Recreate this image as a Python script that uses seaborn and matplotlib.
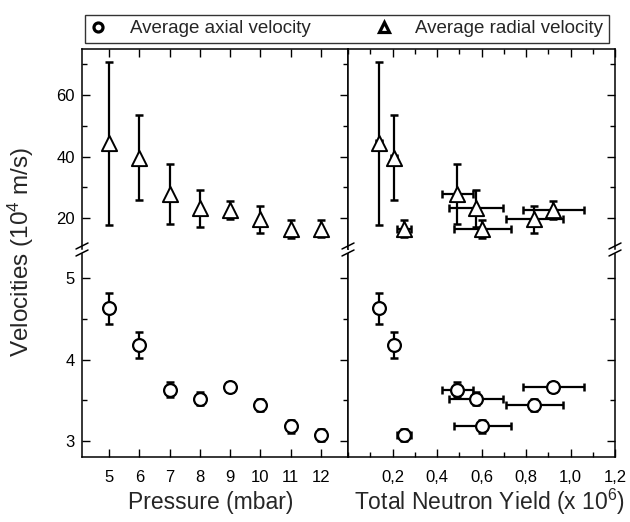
import matplotlib
matplotlib.use("Agg")
import matplotlib.pyplot as plt
from matplotlib.lines import Line2D
from matplotlib.ticker import MultipleLocator, FixedLocator, FuncFormatter
import seaborn as sns

# Measured discharge data
pressure = [5, 6, 7, 8, 9, 10, 11, 12]                       # mbar
neutron_yield = [0.14, 0.207, 0.491, 0.574, 0.923, 0.838, 0.604, 0.252]   # x 10^6
neutron_yield_err = [0.012, 0.015, 0.07, 0.122, 0.137, 0.128, 0.129, 0.033]
axial_velocity = [4.63, 4.185, 3.63, 3.52, 3.66, 3.44, 3.18, 3.07]         # 10^4 m/s
axial_velocity_err = [0.19, 0.16, 0.09, 0.085, 0.06, 0.07, 0.08, 0.07]
radial_velocity = [44.3, 39.7, 27.8, 23.2, 22.7, 19.6, 16.5, 16.6]         # 10^4 m/s
radial_velocity_err = [26.5, 13.7, 9.7, 6.0, 2.9, 4.5, 3.0, 2.8]

pressure_ticks = [5, 6, 7, 8, 9, 10, 11, 12]
yield_ticks = [0.2, 0.4, 0.6, 0.8, 1.0, 1.2]
labels = ["Average axial velocity", "Average radial velocity"]

sns.set_theme(style="ticks")
plt.rcParams["font.family"] = ["Liberation Sans", "DejaVu Sans"]
plt.rcParams["mathtext.fontset"] = "custom"
plt.rcParams["mathtext.rm"] = "Liberation Sans"
plt.rcParams["mathtext.it"] = "Liberation Sans:italic"
plt.rcParams["axes.linewidth"] = 1.1
plt.rcParams["axes.edgecolor"] = "black"

W, H = 630, 522
fig = plt.figure(figsize=(W / 100, H / 100), dpi=100)


def box(x0, x1, ytop, ybot):
    return [x0 / W, 1 - ybot / H, (x1 - x0) / W, (ybot - ytop) / H]


xl0, xmid, xr1 = 82, 348, 615
top_y0, top_y1 = 49, 249
bot_y0, bot_y1 = 254, 457

ax_lt = fig.add_axes(box(xl0, xmid, top_y0, top_y1))
ax_lb = fig.add_axes(box(xl0, xmid, bot_y0, bot_y1))
ax_rt = fig.add_axes(box(xmid, xr1, top_y0, top_y1))
ax_rb = fig.add_axes(box(xmid, xr1, bot_y0, bot_y1))

bar_kw = dict(fmt="none", ecolor="black", elinewidth=1.6, capsize=2.8,
              capthick=1.8, zorder=2)
circ_kw = dict(marker="o", s=85, color="white", edgecolor="black",
               linewidth=1.6, zorder=3, legend=False)
tri_kw = dict(marker="^", s=120, color="white", edgecolor="black",
              linewidth=1.4, zorder=3, legend=False)

# Velocity vs pressure
ax_lt.errorbar(pressure, radial_velocity, yerr=radial_velocity_err, **bar_kw)
sns.scatterplot(x=pressure, y=radial_velocity, ax=ax_lt, **tri_kw)
ax_lb.errorbar(pressure, axial_velocity, yerr=axial_velocity_err, **bar_kw)
sns.scatterplot(x=pressure, y=axial_velocity, ax=ax_lb, **circ_kw)

# Velocity vs neutron yield
ax_rt.errorbar(neutron_yield, radial_velocity, yerr=radial_velocity_err,
               xerr=neutron_yield_err, **bar_kw)
sns.scatterplot(x=neutron_yield, y=radial_velocity, ax=ax_rt, **tri_kw)
ax_rb.errorbar(neutron_yield, axial_velocity, yerr=axial_velocity_err,
               xerr=neutron_yield_err, **bar_kw)
sns.scatterplot(x=neutron_yield, y=axial_velocity, ax=ax_rb, **circ_kw)

for ax in (ax_lt, ax_lb):
    ax.set_xlim(4.1, 12.9)
    ax.xaxis.set_major_locator(FixedLocator(pressure_ticks))
for ax in (ax_rt, ax_rb):
    ax.set_xlim(0, 1.2)
    ax.xaxis.set_major_locator(FixedLocator(yield_ticks))
    ax.xaxis.set_minor_locator(MultipleLocator(0.1))
for ax in (ax_lt, ax_rt):
    ax.set_ylim(10, 75)
    ax.yaxis.set_major_locator(FixedLocator([20, 40, 60]))
    ax.yaxis.set_minor_locator(FixedLocator([30, 50, 70]))
    ax.spines["bottom"].set_visible(False)
for ax in (ax_lb, ax_rb):
    ax.set_ylim(2.8, 5.3)
    ax.yaxis.set_major_locator(FixedLocator([3, 4, 5]))
    ax.yaxis.set_minor_locator(FixedLocator([3.5, 4.5]))
    ax.spines["top"].set_visible(False)

for ax in (ax_lt, ax_lb, ax_rt, ax_rb):
    for s in ax.spines.values():
        s.set_linewidth(1.1)
        s.set_color("black")
    ax.tick_params(which="both", direction="in", color="black", width=1.0,
                   labelsize=12, labelcolor="black")
    ax.tick_params(which="major", length=6)
    ax.tick_params(which="minor", length=3.5)
    ax.set_xlabel("")
    ax.set_ylabel("")

is_top = {ax_lt: True, ax_rt: True, ax_lb: False, ax_rb: False}
is_left = {ax_lt: True, ax_lb: True, ax_rt: False, ax_rb: False}
for ax in (ax_lt, ax_lb, ax_rt, ax_rb):
    ax.tick_params(axis="x", which="both",
                   top=is_top[ax], bottom=not is_top[ax],
                   labeltop=False, labelbottom=not is_top[ax])
    ax.tick_params(axis="y", which="both", left=is_left[ax], right=True,
                   labelleft=is_left[ax], labelright=False)
    ax.tick_params(axis="x", which="major", pad=9)
    ax.tick_params(axis="y", which="major", pad=5)

ax_rb.xaxis.set_major_formatter(
    FuncFormatter(lambda v, p: f"{v:.1f}".replace(".", ",")))

# Axis-break marks on every spine at the split
tr = fig.transFigure
for xp in (xl0, xmid, xr1):
    for yp in (246, 253):
        fig.add_artist(Line2D([(xp - 6) / W, (xp + 6) / W],
                              [1 - (yp + 3) / H, 1 - (yp - 3) / H],
                              transform=tr, color="black", lw=1.1))

fig.text(0.033, 1 - 252 / H, "Velocities (10$^4$ m/s)", rotation=90,
         ha="center", va="center", fontsize=17.5)
fig.text(211 / W, 1 - 502 / H, "Pressure (mbar)", ha="center", va="center",
         fontsize=16.5)
fig.text(489 / W, 1 - 502 / H, "Total Neutron Yield (x 10$^6$)", ha="center",
         va="center", fontsize=16.5)

handles = [
    Line2D([], [], ls="none", marker="o", ms=6.5, mfc="white", mec="black", mew=2.3),
    Line2D([], [], ls="none", marker="^", ms=7.5, mfc="white", mec="black", mew=2.3),
]
leg = fig.legend(handles, labels, loc="lower left", ncol=2, mode="expand",
                 bbox_to_anchor=(85 / W, 1 - 43 / H, 524 / W, 28 / H),
                 borderaxespad=0, frameon=True, fancybox=False,
                 fontsize=13.5, handletextpad=1.3, borderpad=0.3,
                 handlelength=0.8)
leg.get_frame().set_edgecolor("black")
leg.get_frame().set_linewidth(1.0)

fig.savefig("out.png", dpi=100)
